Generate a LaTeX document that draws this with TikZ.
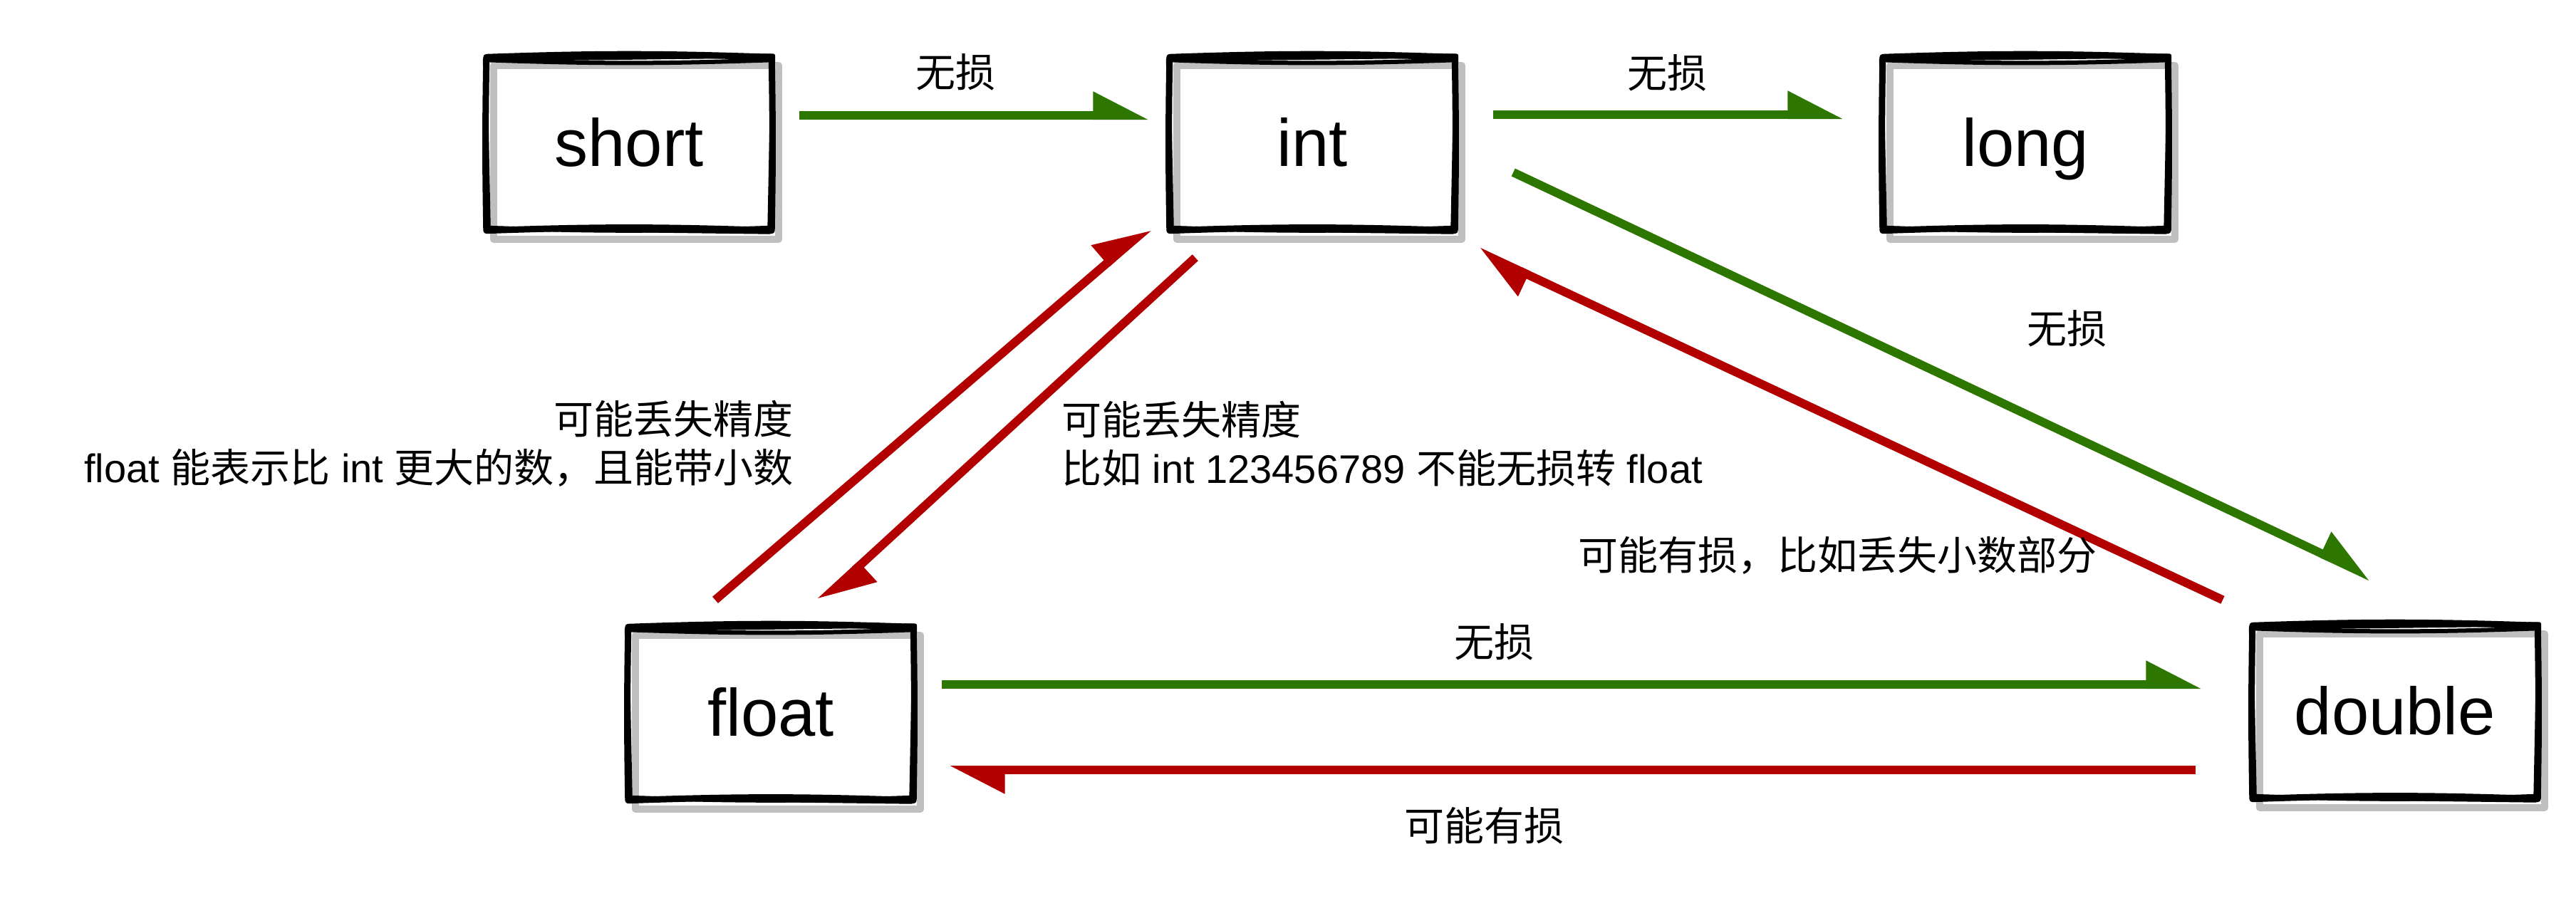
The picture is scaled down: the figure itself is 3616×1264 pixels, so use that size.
\documentclass[tikz,border=0pt]{standalone}
\usepackage{fontspec}
\setmainfont{Liberation Sans}
\newfontfamily\cjk{Noto Sans CJK SC}
\usetikzlibrary{arrows.meta,calc}
\definecolor{gr}{HTML}{2D7600}
\definecolor{rd}{HTML}{B20000}
\definecolor{shd}{HTML}{BFBFBF}
\tikzset{
 boxnode/.style={minimum width=400pt, minimum height=243pt, inner sep=0pt, text height=70pt, text depth=8pt, font=\fontsize{94}{100}\selectfont},
 skline/.style={draw=black, line width=9pt, line cap=round, line join=round},
 skline2/.style={draw=black, line width=6pt, line cap=round, line join=round},
 skshadow/.style={draw=shd, line width=10pt, line cap=round, line join=round},
 lbl/.style={inner sep=0pt, font=\fontsize{56}{68}\selectfont},
 conn/.style={line width=12pt, -{Triangle[harpoon, length=66pt, width=64pt]}},
 garrow/.style={conn, draw=gr},
 rarrow/.style={conn, draw=rd},
}
\newcommand\skbox[4]{%
 \node[boxnode] (#1) at (#2,#3) {#4};
 \draw[skshadow] ([shift={(10,12)}]#1.north west) -- ([shift={(10,12)}]#1.north east) -- ([shift={(10,12)}]#1.south east) -- ([shift={(10,12)}]#1.south west) -- cycle;
 \draw[skline] (#1.north west) to[bend left=2] (#1.north east) to[bend left=1] (#1.south east) to[bend right=2] (#1.south west) to[bend left=1] cycle;
 \draw[skline2] ([shift={(-2,3)}]#1.north west) -- ([shift={(2,-2)}]#1.north east) -- ([shift={(-3,2)}]#1.south east) -- ([shift={(3,-3)}]#1.south west) -- cycle;
 \draw[skline2] ([shift={(0,4)}]#1.north west) to[bend right=2] ([shift={(0,4)}]#1.north east);
 \draw[skline2] ([shift={(0,-4)}]#1.south west) to[bend right=2] ([shift={(0,-4)}]#1.south east);
}
\begin{document}
\begin{tikzpicture}[x=1pt,y=-1pt]
\useasboundingbox[fill=white] (0,0) rectangle (3616,1264);
\skbox{short}{883}{202}{short}
\skbox{int}{1842}{202}{int}
\skbox{long}{2843}{202}{long}
\skbox{float}{1082}{1002}{float}
\skbox{double}{3362}{1000}{double}

\draw[garrow] ($(short.east)+(39,-40)$) -- ($(int.west)+(-29,-40)$);
\draw[garrow] ($(int.east)+(54,-41)$) -- ($(long.west)+(-55,-41)$);
\draw[garrow] ($(int.east)+(82,40)$) -- ($(double.north)+(-33,-68)$);
\draw[rarrow] ($(double.north)+(-242,-36)$) -- ($(int.south east)+(32,29)$);
\draw[rarrow] ($(float.north)+(-78,-38)$) -- ($(int.south west)+(-29,-5)$);
\draw[rarrow] ($(int.south west)+(36,38)$) -- ($(float.north)+(69,-35)$);
\draw[garrow] ($(float.east)+(40,-41)$) -- ($(double.west)+(-71,-39)$);
\draw[rarrow] ($(double.west)+(-80,81)$) -- ($(float.east)+(50,79)$);

\node[lbl] (l1) at (1341,101) {\cjk 无损};
\node[lbl] (l2) at (2340,102) {\cjk 无损};
\node[lbl] (l3) at (2901,461) {\cjk 无损};
\node[lbl] (l4) at (2579,780) {\cjk 可能有损，比如丢失小数部分};
\node[lbl] (l5) at (2097,901) {\cjk 无损};
\node[lbl] (l6) at (2083,1159) {\cjk 可能有损};
\node[lbl, align=right, anchor=east] (l7) at (1114,623) {{\cjk 可能丢失精度}\\float {\cjk 能表示比} int {\cjk 更大的数，且能带小数}};
\node[lbl, align=left, anchor=west] (l8) at (1490,623) {{\cjk 可能丢失精度}\\{\cjk 比如} int 123456789 {\cjk 不能无损转} float};
\end{tikzpicture}
\end{document}
